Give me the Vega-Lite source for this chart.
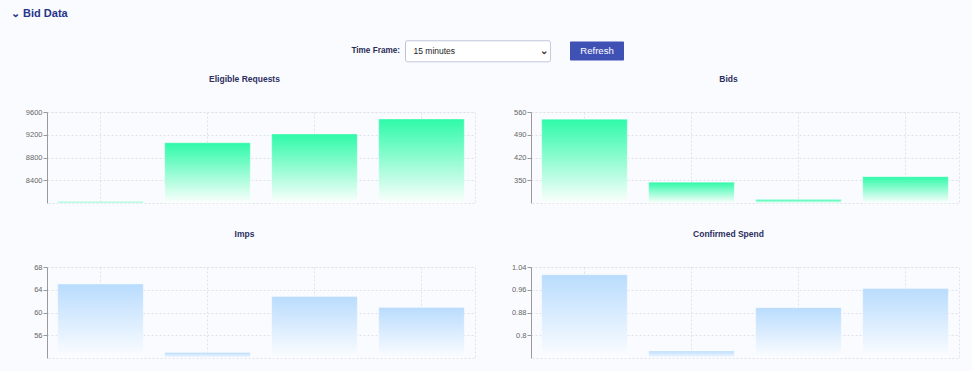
{
  "$schema": "https://vega.github.io/schema/vega-lite/v6.json",
  "background": "#fafbfe",
  "padding": {"left": 11, "top": 7, "right": 12, "bottom": 12},
  "title": {"text": "⌄  Bid Data", "anchor": "start", "frame": "group", "dx": -36, "offset": 11.8, "baseline": "alphabetic", "fontSize": 11, "fontWeight": "bold", "color": "#27348b", "font": "Liberation Sans"},
  "config": {
    "font": "Liberation Sans",
    "view": {"stroke": "#dfe2ea", "strokeDash": [2, 2]},
    "axisX": {"labels": false, "ticks": false, "domain": false, "grid": true, "bandPosition": 0.5, "title": null, "gridColor": "#dfe2ea", "gridDash": [2, 2]},
    "axisY": {"title": null, "domainColor": "#9a9a9a", "tickColor": "#9a9a9a", "tickSize": 4, "labelFontSize": 7.5, "labelColor": "#666666", "labelPadding": 1, "gridColor": "#dfe2ea", "gridDash": [2, 2]}
  },
  "spacing": 12,
  "vconcat": [
    {
      "hconcat": [
        {"width": 284, "height": 21, "view": {"stroke": null}, "data": {"values": []}, "mark": "text", "encoding": {}},
        {
          "width": 145, "height": 21,
          "view": {"fill": "#ffffff", "stroke": "#b5bdd4", "strokeDash": [1, 0], "cornerRadius": 2},
          "title": {"text": "Time Frame:", "orient": "left", "angle": 0, "align": "left", "baseline": "middle", "anchor": "middle", "offset": 5, "fontSize": 8.2, "fontWeight": "bold", "color": "#2a2c55"},
          "data": {"values": [{"label": "15 minutes", "arrow": "⌄"}]},
          "layer": [
            {"mark": {"type": "text", "align": "left", "dx": -64, "fontSize": 8.5, "color": "#222222"}, "encoding": {"text": {"field": "label"}}},
            {"mark": {"type": "text", "align": "center", "dx": 66, "fontSize": 10, "fontWeight": "bold", "color": "#333333"}, "encoding": {"text": {"field": "arrow"}}}
          ]
        },
        {
          "width": 54, "height": 19,
          "view": {"fill": "#3f51b5", "stroke": null, "cornerRadius": 1},
          "data": {"values": [{"label": "Refresh"}]},
          "mark": {"type": "text", "fontSize": 9.6, "color": "#ffffff"},
          "encoding": {"text": {"field": "label"}}
        }
      ],
      "spacing": 19,
      "center": true
    },
    {
      "columns": 2,
      "spacing": {"row": 64, "column": 56},
      "bounds": "flush",
      "concat": [
        {
          "width": 428, "height": 91,
          "title": {"text": "Eligible Requests", "frame": "group", "dx": -16.5, "offset": 18, "baseline": "alphabetic", "fontSize": 8.5, "fontWeight": "bold", "color": "#2d2f5e"},
          "data": {"values": [{"slot": "1", "value": 8020}, {"slot": "2", "value": 9058}, {"slot": "3", "value": 9212}, {"slot": "4", "value": 9476}]},
          "mark": {"type": "bar", "color": {"gradient": "linear", "x1": 0, "y1": 0, "x2": 0, "y2": 1, "stops": [{"offset": 0, "color": "#2efaa9"}, {"offset": 1, "color": "#fcfefd"}]}, "stroke": "#ffffff", "strokeOpacity": 0.35, "strokeWidth": 1},
          "encoding": {
            "x": {"field": "slot", "type": "ordinal", "scale": {"paddingInner": 0.2, "paddingOuter": 0.1}},
            "y": {"field": "value", "type": "quantitative", "scale": {"domain": [8000, 9600], "zero": false, "nice": false}, "axis": {"values": [8400, 8800, 9200, 9600], "format": "d"}},
            "y2": {"datum": 8000}
          }
        },
        {
          "width": 428, "height": 91,
          "title": {"text": "Bids", "frame": "group", "dx": -16.5, "offset": 18, "baseline": "alphabetic", "fontSize": 8.5, "fontWeight": "bold", "color": "#2d2f5e"},
          "data": {"values": [{"slot": "1", "value": 538}, {"slot": "2", "value": 344}, {"slot": "3", "value": 291}, {"slot": "4", "value": 361}]},
          "mark": {"type": "bar", "color": {"gradient": "linear", "x1": 0, "y1": 0, "x2": 0, "y2": 1, "stops": [{"offset": 0, "color": "#2efaa9"}, {"offset": 1, "color": "#fcfefd"}]}, "stroke": "#ffffff", "strokeOpacity": 0.35, "strokeWidth": 1},
          "encoding": {
            "x": {"field": "slot", "type": "ordinal", "scale": {"paddingInner": 0.2, "paddingOuter": 0.1}},
            "y": {"field": "value", "type": "quantitative", "scale": {"domain": [280, 560], "zero": false, "nice": false}, "axis": {"values": [350, 420, 490, 560], "format": "d"}},
            "y2": {"datum": 280}
          }
        },
        {
          "width": 428, "height": 91,
          "title": {"text": "Imps", "frame": "group", "dx": -16.5, "offset": 18, "baseline": "alphabetic", "fontSize": 8.5, "fontWeight": "bold", "color": "#2d2f5e"},
          "data": {"values": [{"slot": "1", "value": 65}, {"slot": "2", "value": 52.95}, {"slot": "3", "value": 62.8}, {"slot": "4", "value": 60.9}]},
          "mark": {"type": "bar", "color": {"gradient": "linear", "x1": 0, "y1": 0, "x2": 0, "y2": 1, "stops": [{"offset": 0, "color": "#b9dcfd"}, {"offset": 1, "color": "#fcfdff"}]}, "stroke": "#ffffff", "strokeOpacity": 0.35, "strokeWidth": 1},
          "encoding": {
            "x": {"field": "slot", "type": "ordinal", "scale": {"paddingInner": 0.2, "paddingOuter": 0.1}},
            "y": {"field": "value", "type": "quantitative", "scale": {"domain": [52, 68], "zero": false, "nice": false}, "axis": {"values": [56, 60, 64, 68], "format": "d"}},
            "y2": {"datum": 52}
          }
        },
        {
          "width": 428, "height": 91,
          "title": {"text": "Confirmed Spend", "frame": "group", "dx": -16.5, "offset": 18, "baseline": "alphabetic", "fontSize": 8.5, "fontWeight": "bold", "color": "#2d2f5e"},
          "data": {"values": [{"slot": "1", "value": 1.013}, {"slot": "2", "value": 0.745}, {"slot": "3", "value": 0.897}, {"slot": "4", "value": 0.964}]},
          "mark": {"type": "bar", "color": {"gradient": "linear", "x1": 0, "y1": 0, "x2": 0, "y2": 1, "stops": [{"offset": 0, "color": "#b9dcfd"}, {"offset": 1, "color": "#fcfdff"}]}, "stroke": "#ffffff", "strokeOpacity": 0.35, "strokeWidth": 1},
          "encoding": {
            "x": {"field": "slot", "type": "ordinal", "scale": {"paddingInner": 0.2, "paddingOuter": 0.1}},
            "y": {"field": "value", "type": "quantitative", "scale": {"domain": [0.72, 1.04], "zero": false, "nice": false}, "axis": {"values": [0.8, 0.88, 0.96, 1.04], "format": ".2~f"}},
            "y2": {"datum": 0.72}
          }
        }
      ]
    }
  ]
}
